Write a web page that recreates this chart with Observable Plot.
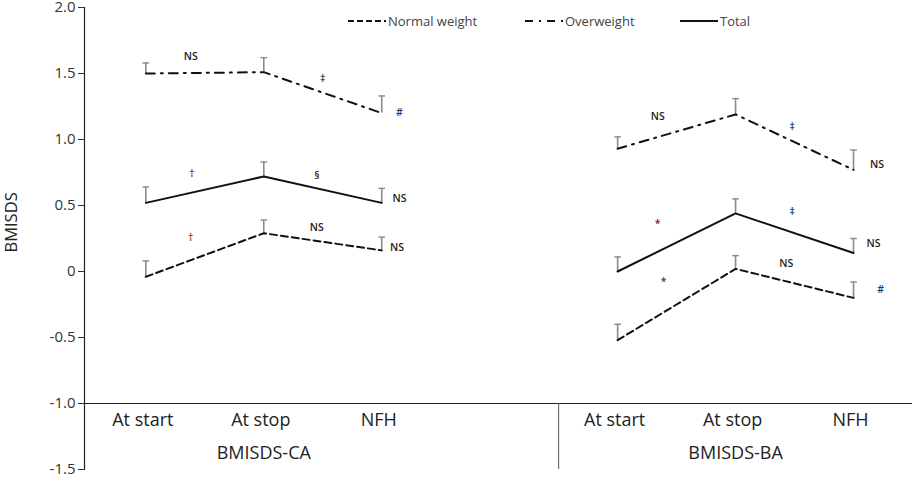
<!DOCTYPE html>
<html><head><meta charset="utf-8">
<script src="https://cdn.jsdelivr.net/npm/d3@7"></script>
<script src="https://cdn.jsdelivr.net/npm/@observablehq/plot@0.6"></script>
<style>
body{margin:0;background:#fff;font-family:"Open Sans",sans-serif;}
#wrap{position:relative;width:918px;height:482px;}
.leg{position:absolute;top:13px;font-size:13px;color:#444;display:flex;align-items:center;white-space:nowrap;line-height:16px}
.leg svg{margin-right:2px}
</style></head><body><div id="wrap"></div>
<script>
// ---- data ----
const timepoints = ["At start", "At stop", "NFH"];
const panels = ["BMISDS-CA", "BMISDS-BA"];
const series = ["Normal weight", "Overweight", "Total"];

const normalCA = [-0.04, 0.29, 0.16];
const normalCAErr = [0.12, 0.10, 0.10];
const overCA = [1.50, 1.51, 1.20];
const overCAErr = [0.08, 0.11, 0.13];
const totalCA = [0.52, 0.72, 0.52];
const totalCAErr = [0.12, 0.11, 0.11];

const normalBA = [-0.52, 0.02, -0.20];
const normalBAErr = [0.12, 0.10, 0.12];
const overBA = [0.93, 1.19, 0.77];
const overBAErr = [0.09, 0.12, 0.15];
const totalBA = [0.00, 0.44, 0.14];
const totalBAErr = [0.11, 0.11, 0.11];

const yTicks = [-1.5, -1.0, -0.5, 0, 0.5, 1.0, 1.5, 2.0];

// significance annotations (x = slot index, y = BMISDS)
const annotText = ["NS", "‡", "#", "†", "§", "NS", "†", "NS", "NS",
                   "NS", "‡", "NS", "*", "‡", "NS", "NS", "*", "#"];
const annotX = [0.38, 1.50, 2.15, 0.39, 1.45, 2.15, 0.38, 1.45, 2.13,
                4.34, 5.48, 6.20, 4.34, 5.48, 6.17, 5.43, 4.39, 6.23];
const annotY = [1.63, 1.46, 1.20, 0.74, 0.73, 0.55, 0.26, 0.33, 0.18,
                1.17, 1.10, 0.81, 0.36, 0.45, 0.21, 0.06, -0.08, -0.14];
const annotColor = {"NS": "#222", "‡": "#1f3b6e", "#": "#1f3b6e", "†": "#8a3b0c", "§": "#222", "*": "#7a1a1a"};

// ---- build table ----
const valueTable = {
  "BMISDS-CA": {"Normal weight": [normalCA, normalCAErr], "Overweight": [overCA, overCAErr], "Total": [totalCA, totalCAErr]},
  "BMISDS-BA": {"Normal weight": [normalBA, normalBAErr], "Overweight": [overBA, overBAErr], "Total": [totalBA, totalBAErr]}
};
const slot = (p, t) => p * 4 + t;
const rows = [];
panels.forEach((pn, p) => series.forEach(s => timepoints.forEach((tp, t) => {
  const [v, e] = valueTable[pn][s];
  rows.push({panel: pn, series: s, time: tp, x: slot(p, t), value: v[t], top: v[t] + e[t]});
})));
const tickRows = [];
panels.forEach((pn, p) => timepoints.forEach((tp, t) => tickRows.push({x: slot(p, t), label: tp})));
const panelRows = panels.map((pn, p) => ({x: slot(p, 1), label: pn}));
const annots = annotText.map((t, i) => ({x: annotX[i], y: annotY[i], t}));

const dash = {"Normal weight": "7,4", "Overweight": "9,6,2,6", "Total": null};

const lineMarks = series.map(s => Plot.line(rows.filter(d => d.series === s), {
  x: "x", y: "value", z: "panel", stroke: "#111", strokeWidth: 2,
  strokeDasharray: dash[s] || undefined
}));

const chart = Plot.plot({
  width: 918, height: 482,
  marginTop: 7, marginBottom: 13, marginLeft: 84, marginRight: 6,
  style: {fontFamily: "Open Sans, sans-serif", fontSize: "15px", color: "#222", background: "#fff", overflow: "visible"},
  x: {domain: [-0.52, 6.5], axis: null},
  y: {domain: [-1.5, 2.0]},
  marks: [
    Plot.frame({anchor: "left", stroke: "#222", strokeWidth: 1.2}),
    Plot.axisY({ticks: yTicks, tickFormat: d => d === 0 ? "0" : d.toFixed(1), tickSize: 6, tickPadding: 3, fontSize: 15, label: null, color: "#333"}),
    Plot.ruleY([-1], {stroke: "#222", strokeWidth: 1.2}),
    Plot.ruleX([slot(1, 0) - 0.5], {y1: -1, y2: -1.5, stroke: "#555", strokeWidth: 1}),
    Plot.ruleX(rows, {x: "x", y1: "value", y2: "top", stroke: "#8a8a8a", strokeWidth: 1.6}),
    Plot.link(rows, {x1: d => d.x - 0.028, x2: d => d.x + 0.028, y1: "top", y2: "top", stroke: "#8a8a8a", strokeWidth: 1.4}),
    ...lineMarks,
    Plot.text(annots, {x: "x", y: "y", text: "t", fill: d => annotColor[d.t], fontSize: 10.5, fontWeight: 600}),
    Plot.text(tickRows, {x: "x", text: "label", frameAnchor: "bottom", dy: -44, dx: -3, fontSize: 18, fill: "#222"}),
    Plot.text(panelRows, {x: "x", text: "label", frameAnchor: "bottom", dy: -11, fontSize: 18, fill: "#222"}),
    Plot.text(["BMISDS"], {frameAnchor: "left", rotate: -90, dx: -73, dy: 14, fontSize: 16.5, fill: "#222"})
  ]
});
const wrap = document.getElementById("wrap");
wrap.appendChild(chart);

// legend (overlaid near the top)
const legendItems = [
  {name: series[0], left: 348, dash: "6,3"},
  {name: series[1], left: 525, dash: "8,6,2,6"},
  {name: series[2], left: 680, dash: null}
];
legendItems.forEach(it => {
  const d = document.createElement("div");
  d.className = "leg";
  d.style.left = it.left + "px";
  d.innerHTML = `<svg width="38" height="6"><line x1="0" y1="3" x2="38" y2="3" stroke="#111" stroke-width="2" ${it.dash ? `stroke-dasharray="${it.dash}"` : ""}/></svg><span>${it.name}</span>`;
  wrap.appendChild(d);
});
</script></body></html>
